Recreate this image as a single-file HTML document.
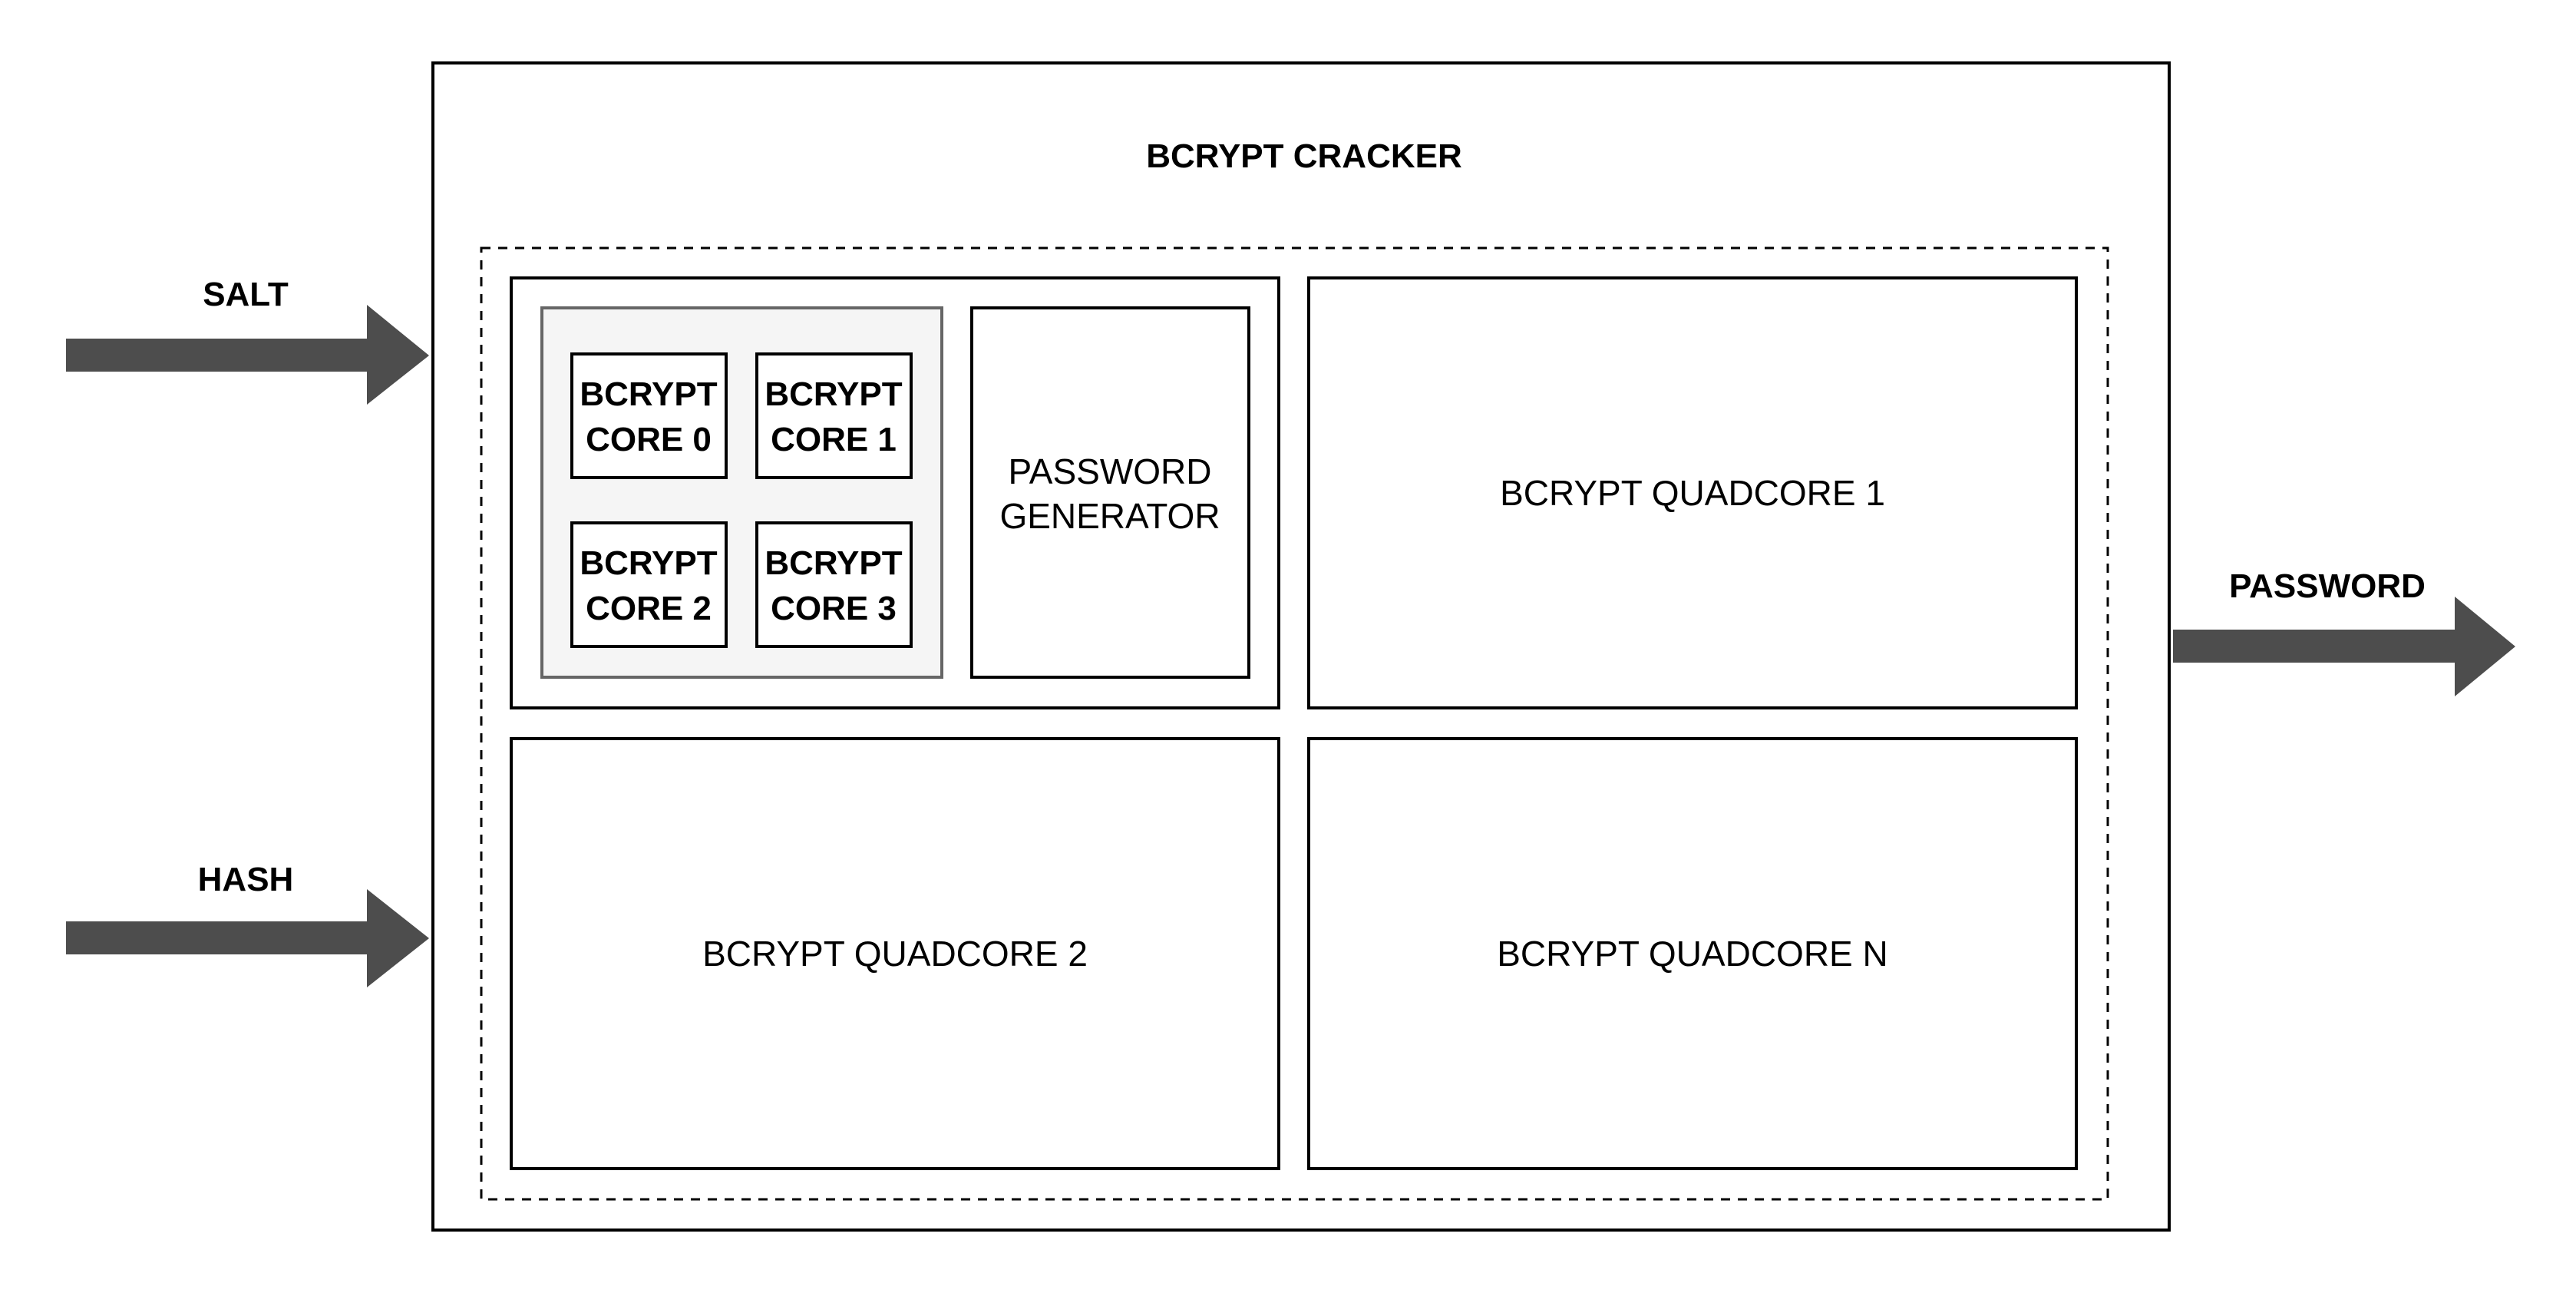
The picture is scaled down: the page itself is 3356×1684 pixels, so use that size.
<!DOCTYPE html>
<html><head><meta charset="utf-8"><style>
html,body{margin:0;padding:0;background:#fff;}
svg{display:block;}
text{font-family:"Liberation Sans",Arial,sans-serif;fill:#000;}
.b{font-weight:bold;font-size:44px;}
.r{font-size:46px;}
</style></head><body>
<svg width="3356" height="1684" viewBox="0 0 3356 1684" xmlns="http://www.w3.org/2000/svg">
<rect x="0" y="0" width="3356" height="1684" fill="#fff"/>
<!-- outer -->
<rect x="564" y="82" width="2262" height="1520" fill="#fff" stroke="#000" stroke-width="4"/>
<text class="b" x="1699" y="218" text-anchor="middle">BCRYPT CRACKER</text>
<!-- dashed -->
<rect x="627" y="323" width="2119" height="1239" fill="none" stroke="#000" stroke-width="3" stroke-dasharray="12 10"/>
<!-- quadcore 0 -->
<rect x="666" y="362" width="1000" height="560" fill="#fff" stroke="#000" stroke-width="4"/>
<rect x="706" y="401" width="521" height="481" fill="#f5f5f5" stroke="#666" stroke-width="4"/>
<rect x="745" y="461" width="201" height="161" fill="#fff" stroke="#000" stroke-width="4"/>
<rect x="986" y="461" width="201" height="161" fill="#fff" stroke="#000" stroke-width="4"/>
<rect x="745" y="681" width="201" height="161" fill="#fff" stroke="#000" stroke-width="4"/>
<rect x="986" y="681" width="201" height="161" fill="#fff" stroke="#000" stroke-width="4"/>
<text class="b" text-anchor="middle"><tspan x="845" y="528">BCRYPT</tspan><tspan x="845" y="587">CORE 0</tspan></text>
<text class="b" text-anchor="middle"><tspan x="1086" y="528">BCRYPT</tspan><tspan x="1086" y="587">CORE 1</tspan></text>
<text class="b" text-anchor="middle"><tspan x="845" y="748">BCRYPT</tspan><tspan x="845" y="807">CORE 2</tspan></text>
<text class="b" text-anchor="middle"><tspan x="1086" y="748">BCRYPT</tspan><tspan x="1086" y="807">CORE 3</tspan></text>
<rect x="1266" y="401" width="361" height="481" fill="#fff" stroke="#000" stroke-width="4"/>
<text class="r" text-anchor="middle"><tspan x="1446" y="630">PASSWORD</tspan><tspan x="1446" y="688">GENERATOR</tspan></text>
<!-- other quadcores -->
<rect x="1705" y="362" width="1000" height="560" fill="#fff" stroke="#000" stroke-width="4"/>
<text class="r" x="2205" y="658" text-anchor="middle">BCRYPT QUADCORE 1</text>
<rect x="666" y="962" width="1000" height="560" fill="#fff" stroke="#000" stroke-width="4"/>
<text class="r" x="1166" y="1258" text-anchor="middle">BCRYPT QUADCORE 2</text>
<rect x="1705" y="962" width="1000" height="560" fill="#fff" stroke="#000" stroke-width="4"/>
<text class="r" x="2205" y="1258" text-anchor="middle">BCRYPT QUADCORE N</text>
<!-- arrows -->
<polygon points="86,441 478,441 478,397 559,463 478,527 478,484 86,484" fill="#4d4d4d"/>
<text class="b" x="320" y="398" text-anchor="middle">SALT</text>
<polygon points="86,1200 478,1200 478,1158 559,1222 478,1286 478,1243 86,1243" fill="#4d4d4d"/>
<text class="b" x="320" y="1160" text-anchor="middle">HASH</text>
<polygon points="2831,820 3198,820 3198,777 3277,842 3198,907 3198,863 2831,863" fill="#4d4d4d"/>
<text class="b" x="3032" y="778" text-anchor="middle">PASSWORD</text>
</svg>
</body></html>
